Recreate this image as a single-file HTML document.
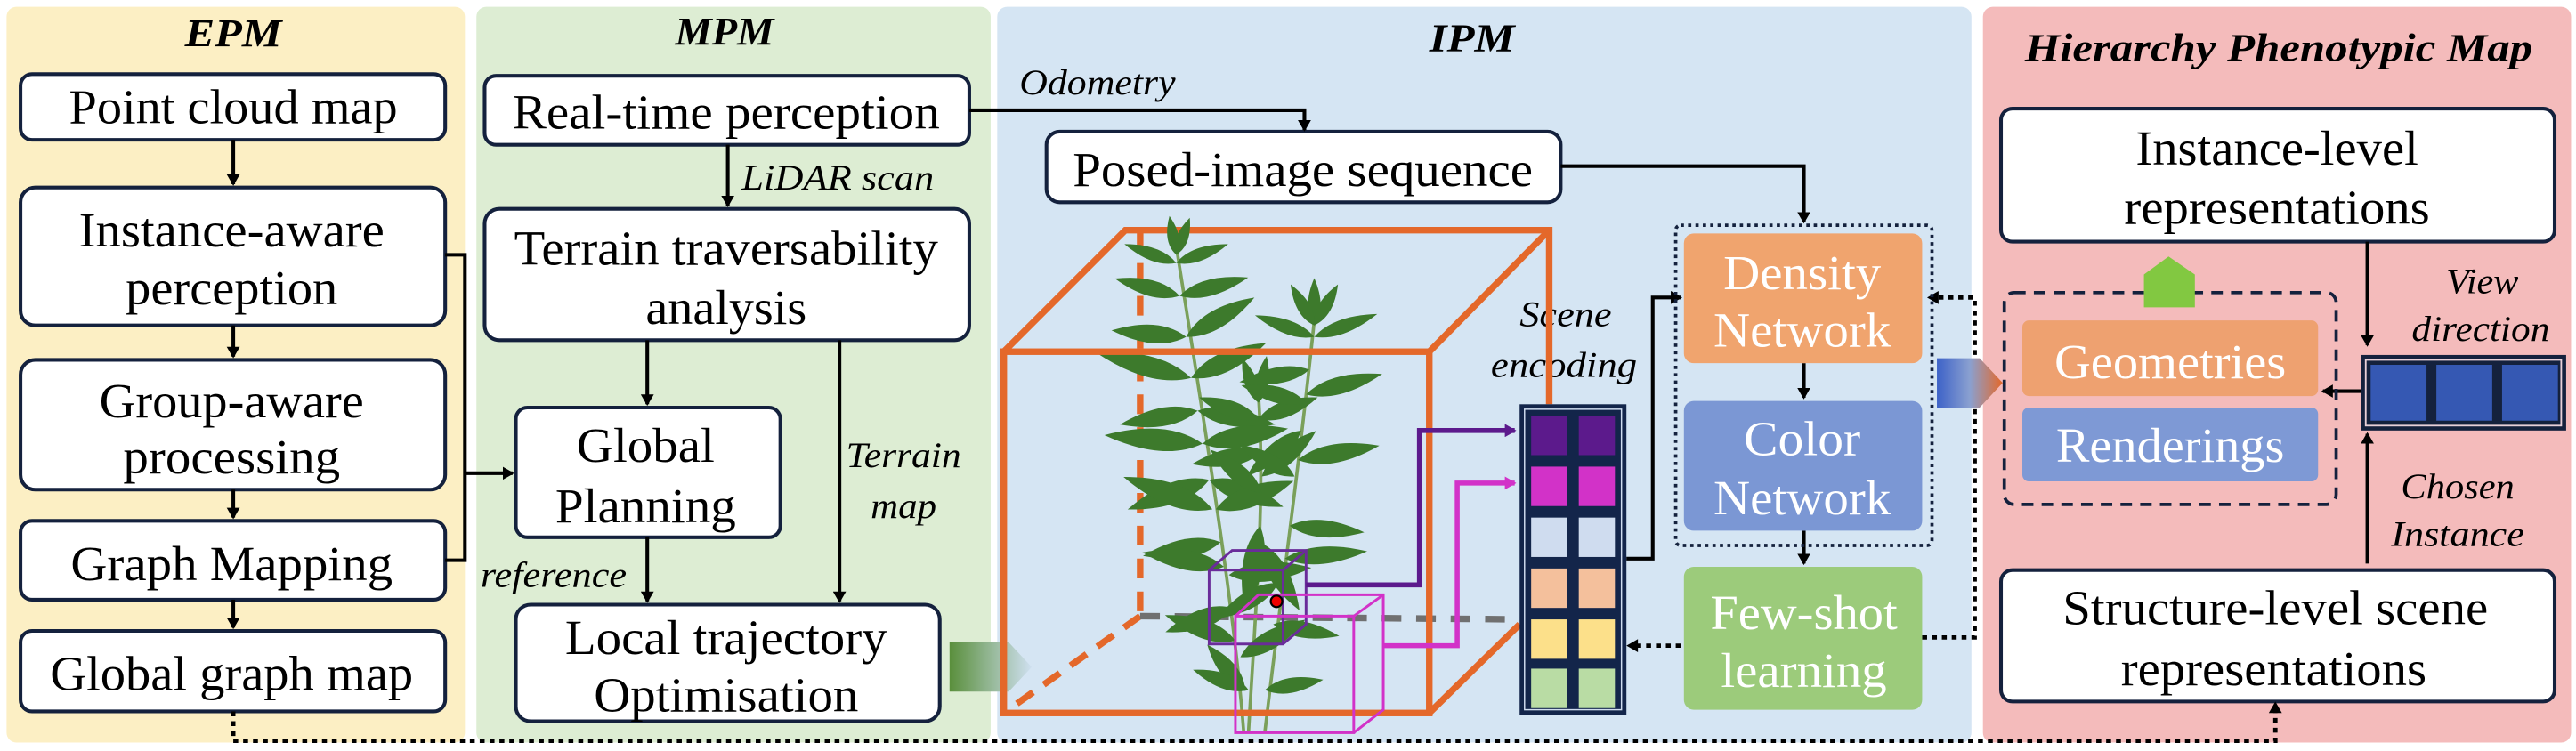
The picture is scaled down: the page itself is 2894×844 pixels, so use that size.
<!DOCTYPE html>
<html><head><meta charset="utf-8"><style>html,body{margin:0;padding:0;background:#fff}svg{display:block}svg text{font-family:"Liberation Serif","Times New Roman",Times,"Noto Serif CJK SC","DejaVu Serif",serif}</style></head><body>
<svg width="2894" height="844" viewBox="0 0 1568 457" xmlns="http://www.w3.org/2000/svg">
<defs>
<marker id="ah" markerWidth="8" markerHeight="8" refX="6" refY="4" orient="auto" markerUnits="userSpaceOnUse"><path d="M0,0 L7,4 L0,8 Z" fill="#000"/></marker>
<marker id="ahp" markerWidth="8" markerHeight="8" refX="6" refY="4" orient="auto" markerUnits="userSpaceOnUse"><path d="M0,0 L7,4 L0,8 Z" fill="#5c1a8c"/></marker>
<marker id="ahm" markerWidth="8" markerHeight="8" refX="6" refY="4" orient="auto" markerUnits="userSpaceOnUse"><path d="M0,0 L7,4 L0,8 Z" fill="#d232c8"/></marker>
<linearGradient id="g1" x1="0" x2="1"><stop offset="0" stop-color="#5a8f3c"/><stop offset="1" stop-color="#cfe0f0"/></linearGradient>
<linearGradient id="g2" x1="0" x2="1"><stop offset="0" stop-color="#3d62c8"/><stop offset="0.5" stop-color="#8aa0d0"/><stop offset="1" stop-color="#e4682a"/></linearGradient>
<path id="lf" d="M0,0 Q9,-7 24,0 Q9,7 0,0 Z"/>
</defs>
<rect width="1568" height="457" fill="#fff"/>
<rect x="4" y="4" width="279" height="448" rx="6" fill="#fcefc4"/>
<rect x="290" y="4" width="313" height="448" rx="6" fill="#ddedd3"/>
<rect x="607" y="4" width="593" height="448" rx="6" fill="#d5e5f3"/>
<rect x="1207" y="4" width="358" height="448" rx="6" fill="#f4bbbb"/>
<g font-weight="bold" font-style="italic" font-size="24" text-anchor="middle">
<text x="142" y="28" textLength="59" lengthAdjust="spacingAndGlyphs">EPM</text>
<text x="441" y="27" textLength="60" lengthAdjust="spacingAndGlyphs">MPM</text>
<text x="896" y="31" textLength="52" lengthAdjust="spacingAndGlyphs">IPM</text>
<text x="1387" y="37" textLength="309" lengthAdjust="spacingAndGlyphs">Hierarchy Phenotypic Map</text>
</g>
<g fill="#fff" stroke="#14213d" stroke-width="2.2">
<rect x="12.5" y="45" width="258.5" height="40" rx="7"/>
<rect x="12.5" y="114" width="258.5" height="84" rx="9"/>
<rect x="12.5" y="219" width="258.5" height="79" rx="9"/>
<rect x="12.5" y="317" width="258.5" height="48" rx="7"/>
<rect x="12.5" y="384" width="258.5" height="49" rx="7"/>
<rect x="295" y="46" width="295" height="42" rx="7"/>
<rect x="295" y="127" width="295" height="80" rx="9"/>
<rect x="314" y="248" width="161" height="79" rx="7"/>
<rect x="314" y="368" width="258" height="71" rx="9"/>
<rect x="637" y="80" width="313" height="43" rx="8"/>
<rect x="1218" y="66" width="337" height="81" rx="7"/>
<rect x="1218" y="347" width="337" height="80" rx="7"/>
</g>
<g font-size="30" text-anchor="middle" dominant-baseline="central">
<text x="142" y="65" textLength="200" lengthAdjust="spacingAndGlyphs">Point cloud map</text>
<text x="141" y="140" textLength="186" lengthAdjust="spacingAndGlyphs">Instance-aware</text>
<text x="141" y="175" textLength="129" lengthAdjust="spacingAndGlyphs">perception</text>
<text x="141" y="244" textLength="161" lengthAdjust="spacingAndGlyphs">Group-aware</text>
<text x="141" y="278" textLength="132" lengthAdjust="spacingAndGlyphs">processing</text>
<text x="141" y="343" textLength="196" lengthAdjust="spacingAndGlyphs">Graph Mapping</text>
<text x="141" y="410" textLength="221" lengthAdjust="spacingAndGlyphs">Global graph map</text>
<text x="442" y="68" textLength="260" lengthAdjust="spacingAndGlyphs">Real-time perception</text>
<text x="442" y="151" textLength="258" lengthAdjust="spacingAndGlyphs">Terrain traversability</text>
<text x="442" y="187" textLength="98" lengthAdjust="spacingAndGlyphs">analysis</text>
<text x="393" y="271" textLength="84" lengthAdjust="spacingAndGlyphs">Global</text>
<text x="393" y="308" textLength="110" lengthAdjust="spacingAndGlyphs">Planning</text>
<text x="442" y="388" textLength="196" lengthAdjust="spacingAndGlyphs">Local trajectory</text>
<text x="442" y="423" textLength="161" lengthAdjust="spacingAndGlyphs">Optimisation</text>
<text x="793" y="103" textLength="280" lengthAdjust="spacingAndGlyphs">Posed-image sequence</text>
<text x="1386" y="90" textLength="172" lengthAdjust="spacingAndGlyphs">Instance-level</text>
<text x="1386" y="126" textLength="186" lengthAdjust="spacingAndGlyphs">representations</text>
<text x="1385" y="370" textLength="259" lengthAdjust="spacingAndGlyphs">Structure-level scene</text>
<text x="1384" y="407" textLength="186" lengthAdjust="spacingAndGlyphs">representations</text>
</g>
<g stroke="#000" stroke-width="2.2" fill="none">
<line x1="142" y1="85" x2="142" y2="112" marker-end="url(#ah)"/>
<line x1="142" y1="198" x2="142" y2="217" marker-end="url(#ah)"/>
<line x1="142" y1="298" x2="142" y2="315" marker-end="url(#ah)"/>
<line x1="142" y1="365" x2="142" y2="382" marker-end="url(#ah)"/>
<polyline points="271,155 283,155 283,341 271,341"/>
<line x1="283" y1="288" x2="312" y2="288" marker-end="url(#ah)"/>
<line x1="443" y1="88" x2="443" y2="125" marker-end="url(#ah)"/>
<line x1="394" y1="207" x2="394" y2="246" marker-end="url(#ah)"/>
<line x1="394" y1="327" x2="394" y2="366" marker-end="url(#ah)"/>
<line x1="511" y1="207" x2="511" y2="366" marker-end="url(#ah)"/>
<polyline points="590,67 794,67 794,79" marker-end="url(#ah)"/>
<polyline points="950,101 1098,101 1098,135" marker-end="url(#ah)"/>
<line x1="1098" y1="221" x2="1098" y2="242" marker-end="url(#ah)"/>
<line x1="1098" y1="323" x2="1098" y2="343" marker-end="url(#ah)"/>
<polyline points="990,340 1006,340 1006,181 1023,181" marker-end="url(#ah)"/>
<line x1="1441" y1="147" x2="1441" y2="210" marker-end="url(#ah)"/>
<line x1="1437" y1="238" x2="1414" y2="238" marker-end="url(#ah)"/>
<line x1="1441" y1="343" x2="1441" y2="264" marker-end="url(#ah)"/>
</g>
<g stroke="#000" stroke-width="2.6" fill="none" stroke-dasharray="3,3">
<polyline points="142,433 142,451 1385,451 1385,431"/>
<polyline points="1023,393 994,393"/>
<polyline points="1170,388 1202,388 1202,181 1178,181"/>
</g>
<path d="M1385,427 l-4,7 h8 z" fill="#000"/>
<path d="M990,393 l7,-4 v8 z" fill="#000"/>
<path d="M1173,181 l7,-4 v8 z" fill="#000"/>
<rect x="1020" y="137" width="156" height="195" rx="3" fill="none" stroke="#14213d" stroke-width="2" stroke-dasharray="2,2.5"/>
<g font-style="italic" font-size="22" text-anchor="middle" dominant-baseline="central">
<text x="510" y="108" textLength="117" lengthAdjust="spacingAndGlyphs">LiDAR scan</text>
<text x="550" y="277" textLength="70" lengthAdjust="spacingAndGlyphs">Terrain</text>
<text x="550" y="308" textLength="40" lengthAdjust="spacingAndGlyphs">map</text>
<text x="337" y="350" textLength="89" lengthAdjust="spacingAndGlyphs">reference</text>
<text x="668" y="50" textLength="95" lengthAdjust="spacingAndGlyphs">Odometry</text>
<text x="953" y="191" textLength="56" lengthAdjust="spacingAndGlyphs">Scene</text>
<text x="952" y="222" textLength="89" lengthAdjust="spacingAndGlyphs">encoding</text>
<text x="1511" y="171" textLength="44" lengthAdjust="spacingAndGlyphs">View</text>
<text x="1510" y="200" textLength="84" lengthAdjust="spacingAndGlyphs">direction</text>
<text x="1496" y="296" textLength="69" lengthAdjust="spacingAndGlyphs">Chosen</text>
<text x="1496" y="325" textLength="81" lengthAdjust="spacingAndGlyphs">Instance</text>
</g>
<rect x="1025" y="142" width="145" height="79" rx="6" fill="#f0a46e"/>
<rect x="1025" y="244" width="145" height="79" rx="6" fill="#7b97d4"/>
<rect x="1025" y="345" width="145" height="87" rx="6" fill="#9ccb7b"/>
<g fill="#fff" font-size="30" text-anchor="middle" dominant-baseline="central">
<text x="1097" y="166" textLength="96" lengthAdjust="spacingAndGlyphs">Density</text>
<text x="1097" y="201" textLength="108" lengthAdjust="spacingAndGlyphs">Network</text>
<text x="1097" y="267" textLength="71" lengthAdjust="spacingAndGlyphs">Color</text>
<text x="1097" y="303" textLength="108" lengthAdjust="spacingAndGlyphs">Network</text>
<text x="1098" y="373" textLength="114" lengthAdjust="spacingAndGlyphs">Few-shot</text>
<text x="1098" y="408" textLength="101" lengthAdjust="spacingAndGlyphs">learning</text>
</g>
<rect x="1220" y="178" width="202" height="129" rx="6" fill="none" stroke="#14213d" stroke-width="2" stroke-dasharray="7,5"/>
<path d="M1305,187 V167 L1320,156 L1336,167 V187 Z" fill="#82c841"/>
<rect x="1231" y="195" width="180" height="46" rx="4" fill="#eea170"/>
<rect x="1231" y="248" width="180" height="45" rx="4" fill="#7e99d5"/>
<g fill="#fff" font-size="30" text-anchor="middle" dominant-baseline="central">
<text x="1321" y="220" textLength="141" lengthAdjust="spacingAndGlyphs">Geometries</text>
<text x="1321" y="271" textLength="139" lengthAdjust="spacingAndGlyphs">Renderings</text>
</g>
<rect x="1437" y="216" width="125" height="46" fill="#14213d"/>
<rect x="1440" y="219" width="119" height="40" fill="none" stroke="#e8d0d8" stroke-width="1"/>
<rect x="1443" y="222" width="34" height="34" fill="#3558b3"/>
<rect x="1483" y="222" width="34" height="34" fill="#3558b3"/>
<rect x="1523" y="222" width="34" height="34" fill="#3558b3"/>
<path d="M1179,218 H1205 L1219,233 L1205,248 H1179 Z" fill="url(#g2)"/>
<path d="M578,391 H614 L628,406 L614,421 H578 Z" fill="url(#g1)"/>
<g stroke="#e4682a" stroke-width="4" fill="none">
<polyline points="611,214 685,140 943,140 943,246"/>
<line x1="870" y1="214" x2="943" y2="140"/>
<line x1="694" y1="140" x2="694" y2="375" stroke-dasharray="12,8"/>
<line x1="694" y1="375" x2="611" y2="434" stroke-dasharray="12,8"/>
</g>
<line x1="694" y1="375" x2="925" y2="377" stroke="#707070" stroke-width="4" stroke-dasharray="12,9"/>
<g stroke="#7aa05a" stroke-width="2" fill="none">
<path d="M757,445 C752,380 740,300 716,150"/>
<path d="M760,445 C765,360 770,300 766,240"/>
<path d="M770,445 C780,360 790,290 800,195"/>
</g>
<g fill="#3d7a2c">
<use href="#lf" transform="translate(716,160) rotate(200) scale(1.4,1.1)"/>
<use href="#lf" transform="translate(716,160) rotate(-20) scale(1.4,1.1)"/>
<use href="#lf" transform="translate(716,155) rotate(-100) scale(1,1)"/>
<use href="#lf" transform="translate(716,155) rotate(-70) scale(1,1)"/>
<use href="#lf" transform="translate(718,180) rotate(195) scale(1.7,1.4)"/>
<use href="#lf" transform="translate(718,180) rotate(-15) scale(1.8,1.4)"/>
<use href="#lf" transform="translate(722,205) rotate(185) scale(1.9,1.6)"/>
<use href="#lf" transform="translate(722,205) rotate(-30) scale(2,1.6)"/>
<use href="#lf" transform="translate(725,230) rotate(195) scale(2.5,1.8)"/>
<use href="#lf" transform="translate(725,230) rotate(-25) scale(2.1,1.7)"/>
<use href="#lf" transform="translate(729,250) rotate(170) scale(2,1.6)"/>
<use href="#lf" transform="translate(729,250) rotate(10) scale(2,1.6)"/>
<use href="#lf" transform="translate(732,270) rotate(185) scale(2.5,1.9)"/>
<use href="#lf" transform="translate(732,270) rotate(-10) scale(2.2,1.8)"/>
<use href="#lf" transform="translate(736,292) rotate(160) scale(2.2,1.8)"/>
<use href="#lf" transform="translate(736,292) rotate(20) scale(2,1.7)"/>
<use href="#lf" transform="translate(738,310) rotate(200) scale(2.4,1.9)"/>
<use href="#lf" transform="translate(740,310) rotate(-20) scale(2.1,1.8)"/>
<use href="#lf" transform="translate(743,330) rotate(170) scale(2,1.6)"/>
<use href="#lf" transform="translate(745,345) rotate(190) scale(2.1,1.7)"/>
<use href="#lf" transform="translate(748,350) rotate(-5) scale(2.1,1.7)"/>
<use href="#lf" transform="translate(750,370) rotate(160) scale(1.8,1.6)"/>
<use href="#lf" transform="translate(752,390) rotate(200) scale(1.9,1.6)"/>
<use href="#lf" transform="translate(755,400) rotate(-30) scale(1.9,1.6)"/>
<use href="#lf" transform="translate(758,420) rotate(230) scale(1.5,1.4)"/>
<use href="#lf" transform="translate(766,245) rotate(-80) scale(1.2,1.1)"/>
<use href="#lf" transform="translate(766,245) rotate(-110) scale(1.2,1.1)"/>
<use href="#lf" transform="translate(766,255) rotate(200) scale(1.6,1.4)"/>
<use href="#lf" transform="translate(766,255) rotate(-20) scale(1.6,1.4)"/>
<use href="#lf" transform="translate(768,275) rotate(170) scale(1.8,1.5)"/>
<use href="#lf" transform="translate(768,290) rotate(-40) scale(1.8,1.5)"/>
<use href="#lf" transform="translate(768,300) rotate(220) scale(1.7,1.5)"/>
<use href="#lf" transform="translate(767,320) rotate(100) scale(2.2,1.8)"/>
<use href="#lf" transform="translate(767,330) rotate(60) scale(2,1.7)"/>
<use href="#lf" transform="translate(800,198) rotate(-90) scale(1.2,1.1)"/>
<use href="#lf" transform="translate(800,198) rotate(-60) scale(1.2,1.1)"/>
<use href="#lf" transform="translate(800,198) rotate(-120) scale(1.2,1.1)"/>
<use href="#lf" transform="translate(800,205) rotate(-20) scale(1.7,1.2)"/>
<use href="#lf" transform="translate(800,205) rotate(200) scale(1.6,1.2)"/>
<use href="#lf" transform="translate(797,225) rotate(170) scale(1.8,1.4)"/>
<use href="#lf" transform="translate(795,240) rotate(-15) scale(2,1.5)"/>
<use href="#lf" transform="translate(795,245) rotate(195) scale(1.7,1.4)"/>
<use href="#lf" transform="translate(792,262) rotate(140) scale(1.8,1.5)"/>
<use href="#lf" transform="translate(790,280) rotate(-10) scale(2.1,1.6)"/>
<use href="#lf" transform="translate(788,290) rotate(210) scale(1.6,1.4)"/>
<use href="#lf" transform="translate(785,320) rotate(5) scale(1.9,1.5)"/>
<use href="#lf" transform="translate(782,340) rotate(-5) scale(2.1,1.5)"/>
<use href="#lf" transform="translate(778,355) rotate(150) scale(1.8,1.5)"/>
<use href="#lf" transform="translate(775,380) rotate(10) scale(1.7,1.4)"/>
<use href="#lf" transform="translate(770,420) rotate(-10) scale(1.5,1.3)"/>
<use href="#lf" transform="translate(760,420) rotate(200) scale(1.5,1.3)"/>
</g>
<g stroke="#e4682a" stroke-width="4" fill="none">
<rect x="611" y="214" width="259" height="220"/>
<line x1="870" y1="434" x2="925" y2="380"/>
</g>
<g fill="none" stroke-width="1.6">
<g stroke="#6a2c9a"><rect x="736" y="347" width="45" height="45"/><polyline points="736,347 750,335 795,335 795,380 781,392"/><line x1="781" y1="347" x2="795" y2="335"/></g>
<g stroke="#d232c8"><rect x="752" y="375" width="72" height="71"/><polyline points="752,375 766,362 842,362 842,432 824,446"/><line x1="824" y1="375" x2="842" y2="362"/></g>
</g>
<circle cx="777" cy="366" r="3.5" fill="#e00" stroke="#000" stroke-width="1.2"/>
<polyline points="795,356 864,356 864,262 922,262" fill="none" stroke="#5c1a8c" stroke-width="3" marker-end="url(#ahp)"/>
<polyline points="842,393 887,393 887,294 922,294" fill="none" stroke="#d232c8" stroke-width="3" marker-end="url(#ahm)"/>
<rect x="925" y="246" width="65" height="189" fill="#13254a"/>
<rect x="928" y="249" width="59" height="183" fill="none" stroke="#cfdcef" stroke-width="0.8"/>
<g>
<rect x="932" y="253" width="22" height="24" fill="#5c1a8c"/><rect x="961" y="253" width="22" height="24" fill="#5c1a8c"/>
<rect x="932" y="284" width="22" height="24" fill="#d232c8"/><rect x="961" y="284" width="22" height="24" fill="#d232c8"/>
<rect x="932" y="315" width="22" height="24" fill="#cfdcef"/><rect x="961" y="315" width="22" height="24" fill="#cfdcef"/>
<rect x="932" y="346" width="22" height="24" fill="#f4c09c"/><rect x="961" y="346" width="22" height="24" fill="#f4c09c"/>
<rect x="932" y="377" width="22" height="24" fill="#fce08a"/><rect x="961" y="377" width="22" height="24" fill="#fce08a"/>
<rect x="932" y="407" width="22" height="24" fill="#b9dca4"/><rect x="961" y="407" width="22" height="24" fill="#b9dca4"/>
</g>
</svg>
</body></html>
